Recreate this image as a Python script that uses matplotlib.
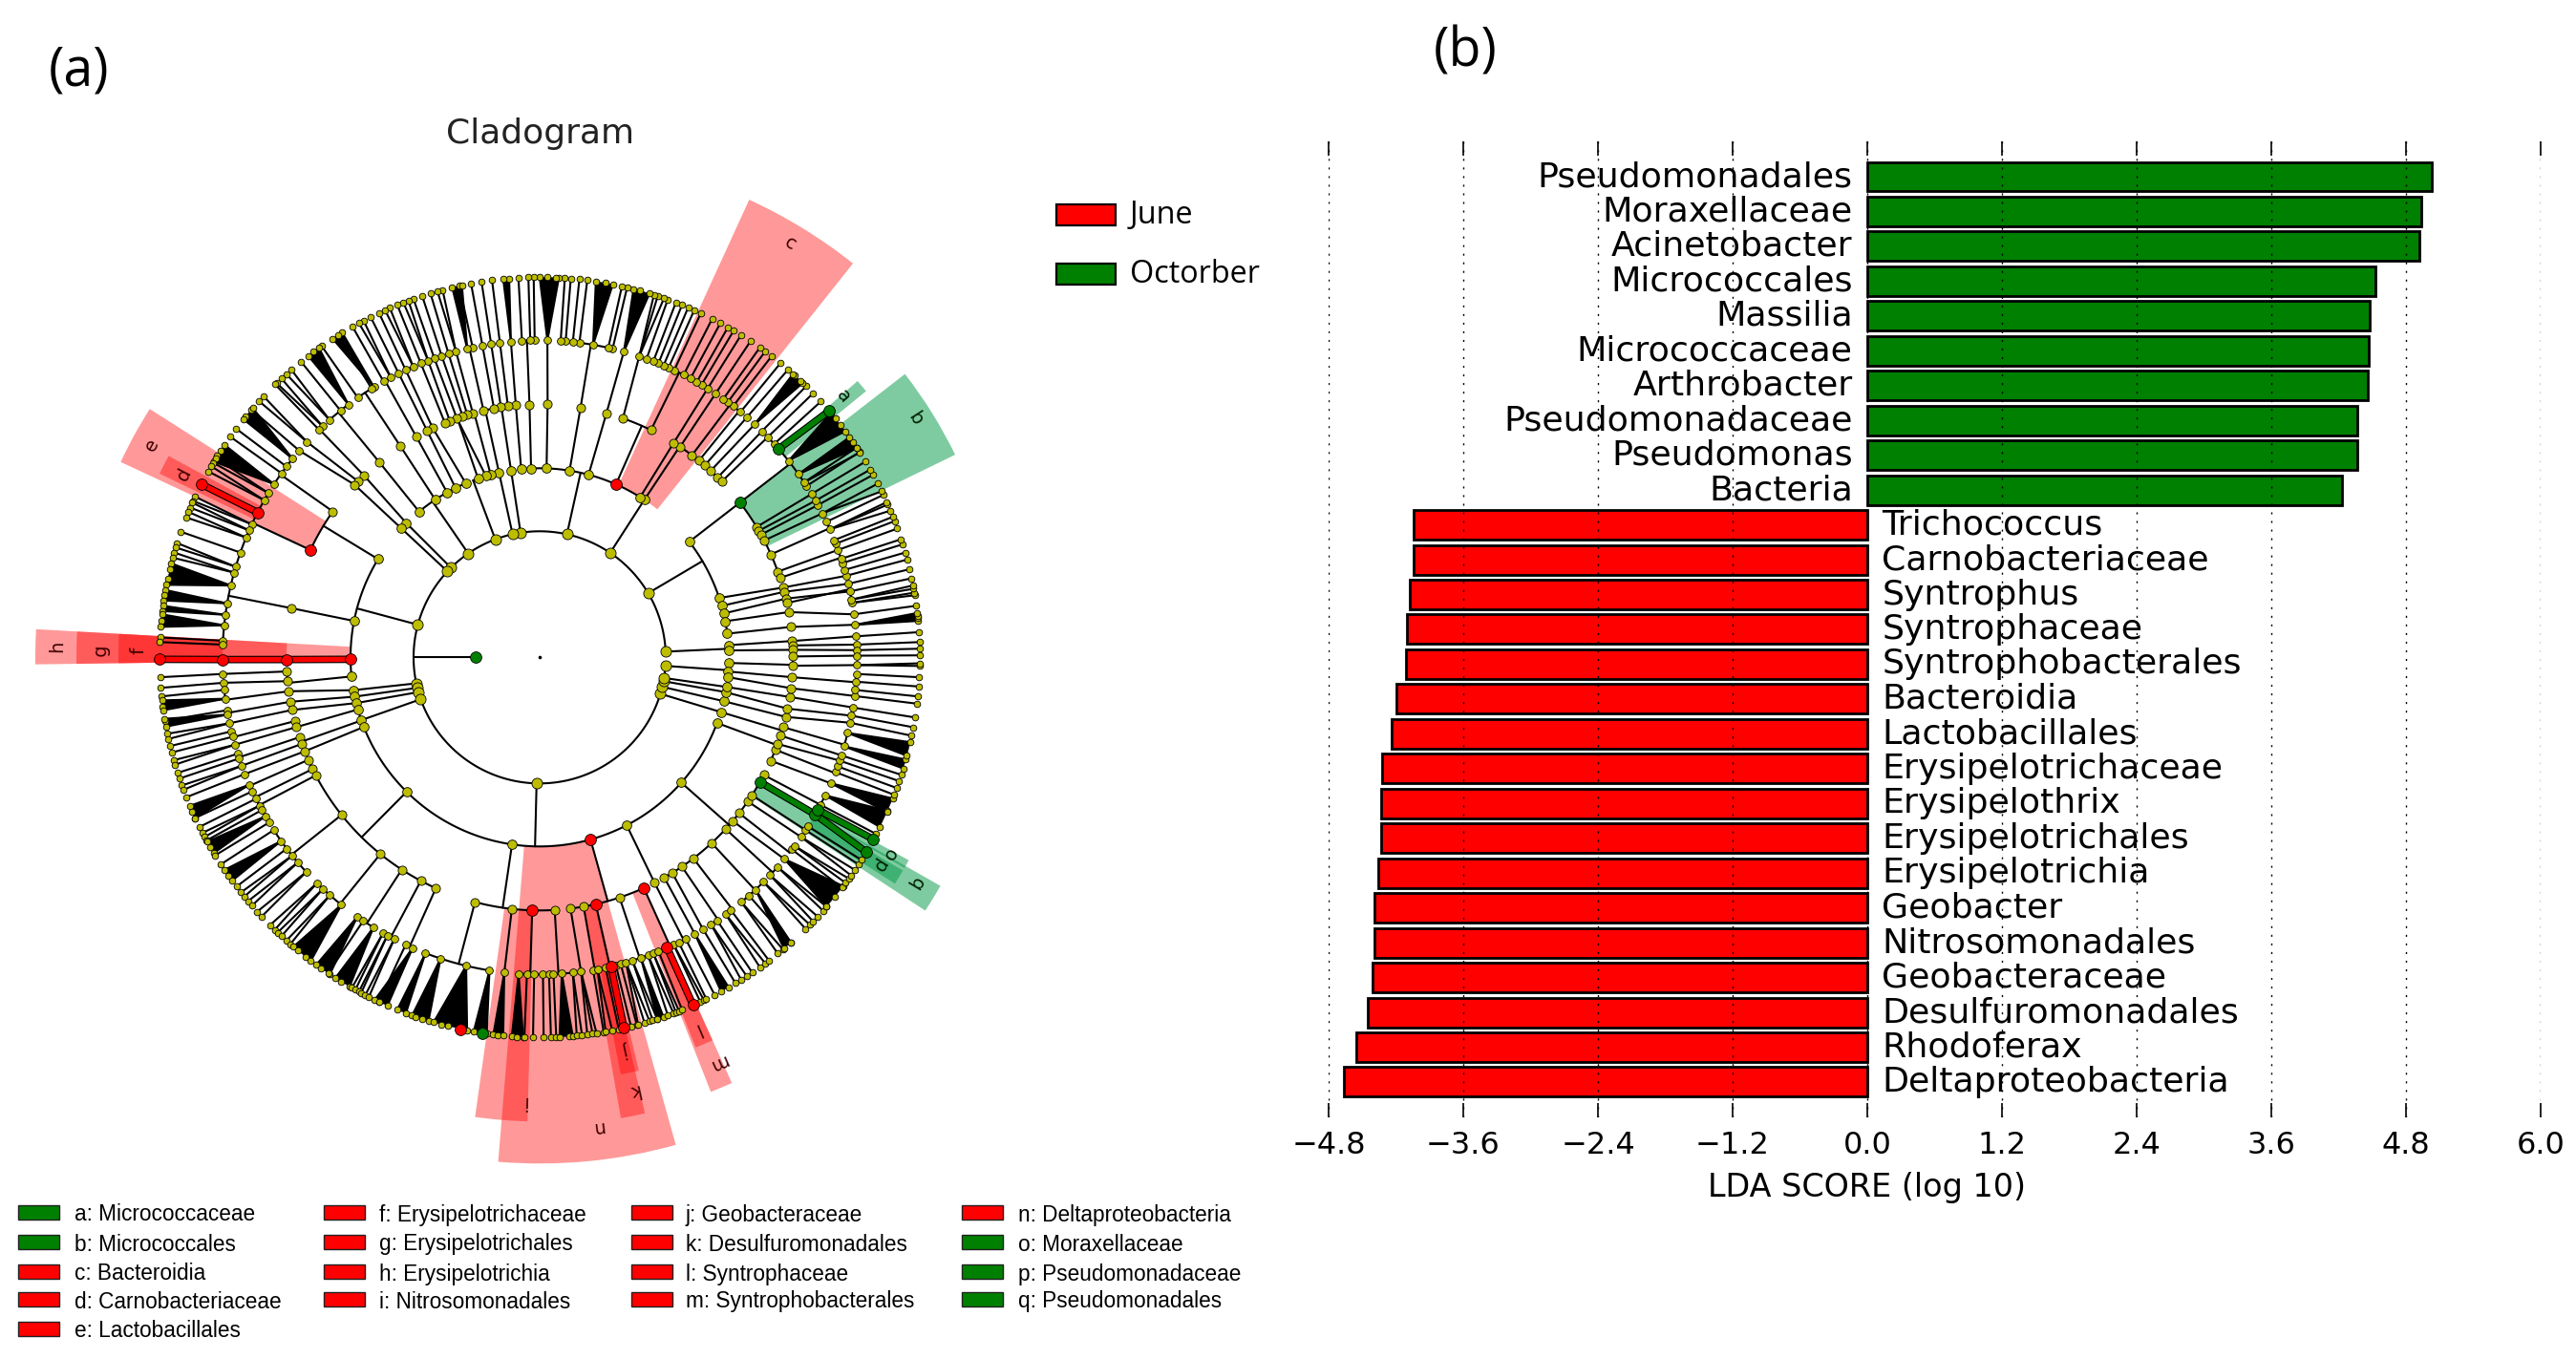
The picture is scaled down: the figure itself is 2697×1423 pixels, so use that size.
import numpy as np
import matplotlib
matplotlib.use("Agg")
import matplotlib.pyplot as plt
from matplotlib.collections import LineCollection
from matplotlib.patches import Wedge, Rectangle

# ---------- LDA bars ----------
bar_names = ["Pseudomonadales","Moraxellaceae","Acinetobacter","Micrococcales","Massilia","Micrococcaceae",
             "Arthrobacter","Pseudomonadaceae","Pseudomonas","Bacteria","Trichococcus","Carnobacteriaceae",
             "Syntrophus","Syntrophaceae","Syntrophobacterales","Bacteroidia","Lactobacillales",
             "Erysipelotrichaceae","Erysipelothrix","Erysipelotrichales","Erysipelotrichia","Geobacter",
             "Nitrosomonadales","Geobacteraceae","Desulfuromonadales","Rhodoferax","Deltaproteobacteria"]
bar_values = [5.03,4.94,4.92,4.53,4.48,4.47,4.46,4.37,4.37,4.23,
              -4.04,-4.04,-4.08,-4.10,-4.11,-4.20,-4.24,-4.32,-4.33,-4.33,-4.36,-4.39,-4.39,-4.41,-4.45,-4.55,-4.66]
xticks = [-4.8,-3.6,-2.4,-1.2,0.0,1.2,2.4,3.6,4.8,6.0]

# ---------- cladogram legend ----------
legend_cols = [[("a: Micrococcaceae","g"),("b: Micrococcales","g"),("c: Bacteroidia","r"),("d: Carnobacteriaceae","r"),("e: Lactobacillales","r")],
               [("f: Erysipelotrichaceae","r"),("g: Erysipelotrichales","r"),("h: Erysipelotrichia","r"),("i: Nitrosomonadales","r")],
               [("j: Geobacteraceae","r"),("k: Desulfuromonadales","r"),("l: Syntrophaceae","r"),("m: Syntrophobacterales","r")],
               [("n: Deltaproteobacteria","r"),("o: Moraxellaceae","g"),("p: Pseudomonadaceae","g"),("q: Pseudomonadales","g")]]

# ---------- cladogram tree: ring radii and angles (deg) ----------
RADII = [0, 67, 132, 198, 265, 332, 398]

LEVEL2 = [(180,[2.6,30.6,56,77.5,98.7,102.4,110.6,124.5,134.7,137,165,191.9,194,196,199.4,268.6,343.2,346.5,349.1,350.6,356.1])]
LEVEL3 = [(2.6,[3.7,2.1]),(30.6,[37.7,18.3,15.8,13.4,11,7.2]),(56,[56.4]),(77.5,[57.9,66.2,75,80.9,87.9,92.6,95.6]),
          (98.7,[98.7]),(102.4,[102.4,105]),(110.6,[106.5,109]),(124.5,[113,116.4,119.3,123.5,129.6]),(134.7,[134.8]),(137,[137]),
          (165,[148.7,168.9,180.6,185.8]),(191.9,[190]),(194,[192]),(196,[194]),(199.4,[196,199.5]),
          (268.6,[201.6,225.3,261.6,285.6,297.4,318.5,339.7]),(343.2,[343.2]),(346.5,[346.6]),(349.1,[349.4]),(350.6,[351]),
          (356.1,[358.3,355.7,354])]
LEVEL4 = [(3.7,[3.7,2.7]),(2.1,[1.7]),(37.7,[37.7,31,30,29,27.5,24,19.8,18.3]),(18.3,[16]),(15.8,[15]),(13.4,[13.4,12.4]),(11,[10.3]),(7.2,[6.9]),
          (56.4,[56.3,53,51,49.3,47.5,45.3,44]),(57.9,[58]),(66.2,[63.9,70.8]),(75,[74.7]),(80.9,[80.7]),(87.9,[88.2]),(92.6,[92.3]),
          (95.6,[95.4]),(98.7,[97.2,98.8]),(102.4,[100.4,102.8]),(105,[105.3,106.6,107.7]),(106.5,[109.1]),(109,[110.8,112]),(113,[115]),
          (116.4,[116.4]),(119.3,[119.2]),(123.5,[123.4]),(129.6,[129.4]),(134.8,[134]),(137,[135.9,137]),
          (148.7,[144.8,154.9]),(168.9,[168.8]),(180.6,[180.5]),(185.8,[183.2,185.4]),(190,[187.7]),(192,[190.1]),(194,[192]),(196,[194.6,196]),
          (199.5,[198.4,200]),(201.6,[201.8]),(225.3,[203.9,206.2,207.8,218.5,231,237,242,245.8]),(261.6,[255.2,263.7,268.3,273.4]),
          (285.6,[277,280,282.8,288.4,294.3]),(297.4,[297]),(318.5,[299.5,301.6,304.2,307.4,312.8,317.3,319.7,322,325.3,327,330.5,332.3]),
          (339.7,[335.9,338.6,340]),(343.2,[342,344]),(346.6,[346.4]),(349.4,[348.3]),(351,[351]),(354,[353]),(355.7,[355.5]),(358.3,[358.1,360.2])]
LEVEL5 = [(3.7,[3.8]),(2.7,[2.3]),(1.7,[1.3]),(360.2,[360.3]),(358.1,[358.6]),(6.9,[5.9]),(10.3,[7.8]),(12.4,[9.9,10.5]),(13.4,[12]),(15,[13.4]),(16,[14.9]),
          (18.3,[16,17.3]),(19.8,[18.1,19.8,21,21.7]),(24,[23.8,25.3]),(27.5,[27]),(29,[28.7]),(30,[29.6]),(31,[31]),(37.7,[32.7,33.5,35.3,38.3,41.1]),
          (44,[42.3,44]),(45.3,[45.5]),(47.5,[47.3]),(49.3,[49.2]),(51,[50.7,52.4]),(53,[53.6,54.6]),(56.3,[56.3]),(58,[58]),
          (63.9,[59.3,60.3,61.6,63,64.9,66,67,68,69,70.3]),(70.8,[71.7]),(74.7,[74.6]),(80.7,[76.7,77.5,80.3,82.8,84,85.3,86.2]),(88.2,[88.6]),
          (92.3,[90.9,91.7,93.2]),(95.4,[95.2]),(97.2,[97.2]),(98.8,[98.8]),(100.4,[100.4]),(102.8,[102.2,103.2]),(105.3,[105.3]),(106.6,[106.7]),(107.7,[108]),
          (109.1,[109.4]),(110.8,[110.6]),(112,[112]),(115,[113.5,115]),(116.4,[116.4]),(119.2,[118,119.5]),(123.4,[121.5,122,125]),(129.4,[127.1,128.9,131.5]),
          (134,[133.2,134.1]),(135.9,[137.2]),(137,[139.3]),(144.8,[141.2,143,144.5,146.9]),(154.9,[148.8,150.3,152.8,155.2]),
          (168.8,[156.4,157.8,160.7,163.4,164.5,166.9,170.2,172.3,174.2,177,177.7]),
          (180.5,[180.4]),(183.2,[183]),(185.4,[184.6]),(187.7,[185.9,187.5]),(190.1,[189.6,190.4]),(192,[192]),(194.6,[193.5,194.5]),(196,[196]),(198.4,[197.7,198.6]),
          (200,[200]),(201.8,[201.6]),(203.9,[203.7,205]),(206.2,[206.5,207.9]),(207.8,[208.8,210.1,211.4]),(218.5,[213,215.4,217.1,218.7,220.3,222.6]),
          (231,[225.4,226.9,228.6,231.3]),(237,[234.9,236.2,238.4]),(242,[240.4,241.3,242.7]),(245.8,[245,246.4]),(255.2,[248.9,251.8,256.6,260.9]),(263.7,[263.6]),
          (268.3,[266.2,267.7,269,270.6,271.7]),(273.4,[272.5,274,276]),(277,[277.5]),(280,[279.7,280.5]),(282.8,[282,283,283.9]),(288.4,[284.8,285.8,287,288.6,290,291]),
          (294.3,[292,293.7,295]),(297,[296,297.4]),(299.5,[299.3]),(301.6,[301]),(304.2,[302.7,304]),(307.4,[305.9,307.1]),(312.8,[309.5,311.3,312.9,314.9]),
          (317.3,[316.6,318.6]),(319.7,[320.5]),(322,[322.7,323.5]),(325.3,[325.5]),(327,[327,327.8]),(330.5,[330.3,331.3]),(332.3,[332.3,334.2]),(335.9,[336.6]),
          (338.6,[338.8,339.9]),(340,[341]),(342,[342]),(344,[343.7,346.2]),(346.4,[348.1]),(348.3,[349.4]),(351,[350.9]),(353,[353]),(355.5,[354.1,355.6,357])]
# r5 node -> leaves on the outer ring, as separate spokes
FANS = {358.6:[358.7,359.1],9.9:[9.4,9.8],10.5:[10.4,10.9],23.8:[22.7,23.7,24.1],27:[25.9,27.2],33.5:[32.6,33.5],71.7:[70.9,71.9,72.5],
        283:[282.8],293.7:[293.8],152.8:[152.9],41.1:[40.4],330.3:[329.2],331.3:[331.4],180.4:[180.3],
        285.8:[285,286,286.8],287:[287.3,288],290:[289.7,290.6],291:[291,291.5],295:[295,295.6],280.5:[280,281],276:[275.6,276.4],277.5:[277.2,278,278.6],
        302.7:[302,303],305.9:[305.4,306.4],309.5:[308.8,309.8],314.9:[314.4,315.3],316.6:[316,317],318.6:[318.2,319],323.5:[323.6,324.4],325.5:[325,326],
        163.4:[162.5,163.2],164.5:[164,164.8],157.8:[157.5,158.4],156.4:[156,156.8],155.2:[155,155.7],
        118:[117.6,118.4],113.5:[113.2,114],110.6:[110.2,111],105.3:[104.8,105.6],137.2:[136.6,137.6],133.2:[132.8,133.8],131.5:[130.8,131.8],
        150.3:[149.8,150.7],148.8:[148.4,149.2],192:[191.6,192.4],196:[195.7,196.4],200:[199.7,200.4],207.9:[207.5,208.2],
        218.7:[218.2,219],220.3:[219.9,220.8],222.6:[222,223],225.4:[224.8,225.8],226.9:[226.4,227.2],228.6:[228.2,229],
        240.4:[240.4,241],241.3:[241.6,242],242.7:[242.7,243.3]}
# r5 node -> leaves that close into a solid black fan
WEDGES = {5.9:[5.5,5.9,6.3,6.7],35.3:[33.4,34.5,35.4],38.3:[36.5,37.6,38.9,40],47.3:[46.2,46.7,47.8,48.2],74.6:[73.2,74.7,75.7],80.3:[78.9,80,81.5],88.6:[87.1,87.6,88.8,90],
          95.2:[94.6,95.5],103.2:[101.8,103.3],121.5:[121.3,123],127.1:[125.5,126.5,127.5],141.2:[139,140.6,141.2],146.9:[146,147,148,149],
          166.9:[165.7,166.6,168,169],170.2:[169.8,170.6,171.4],172.3:[172.2,173],174.2:[173.5,174.5,175.4],187.5:[186.5,187.5,188],190.4:[189.3,190.5],
          203.7:[203,204,205],210.1:[209,210,211],215.4:[214,215,216],231.3:[229.6,230.5,232,233],234.9:[234,234.9,236.5],238.4:[237.5,238.5,240],246.4:[244.3,245,246.4],
          248.9:[248,249.4],251.8:[250.4,251,252,253],256.6:[253.8,255,256,258,259],260.9:[260,261.3,262],263.6:[263,263.7,264.5],266.2:[265.8,266.6,267.5],
          274:[273,274.5,275],288.6:[288,289],312.9:[310,311.4],320.5:[319,321,323],336.6:[336,338.2],334.2:[333.5,336.2],346.2:[345,347.1],343.7:[343,344.4],299.3:[298.5,299.8]}
# coloured nodes: (ring level, angle)
RED_NODES = [(3,66.2),(3,180.6),(3,285.6),(4,154.9),(4,180.5),(4,268.3),(4,282.8),(4,294.3),(5,152.8),(5,180.4),(5,283),(5,293.7),
             (6,180.3),(6,152.9),(6,282.8),(6,293.8),(6,258)]
GREEN_NODES = [(1,180),(4,37.7),(4,330.5),(5,41.1),(5,330.3),(5,331.3),(6,40.4),(6,329.2),(6,331.4),(6,261.3)]
# bold branches: colour, chain of (level, angle)
BOLD = [("r",[(3,180.6),(4,180.5),(5,180.4),(6,180.3)]),("r",[(5,152.8),(6,152.9)]),("r",[(5,283),(6,282.8)]),("r",[(5,293.7),(6,293.8)]),
        ("g",[(5,41.1),(6,40.4)]),("g",[(4,330.5),(5,330.3),(6,329.2)]),("g",[(5,331.3),(6,331.4)])]
# shaded clades: label, colour, first angle, last angle, inner r, outer r, label angle, label r
CLADES = [("c","r",51.5,65.4,198,527,58.8,507),("b","g",26,37.8,265,484,32.5,466),("a","g",39.2,41,332,441,40.7,420),
          ("e","r",147.5,155,265,484,151.3,463),("d","r",151.5,154.2,332,442,152.8,418),
          ("h","r",176.8,180.8,198,528,178.7,505),("g","r",176.8,180.8,265,485,179,460),("f","r",176.8,180.8,332,441,179,420),
          ("i","r",262,268.5,265,486,268,465),("n","r",265.3,285.6,198,530,277,496),("k","r",280,283,265,490,282.3,464),("j","r",281,283.5,332,445,282.5,421),
          ("l","r",291.8,294.3,332,440,293,422),("m","r",291.5,294.3,265,489,293.7,464),
          ("q","g",326.7,330.3,265,483,329,459),("p","g",327.5,329.6,332,441,328.5,417),("o","g",330,331.2,332,441,330.6,420)]

OLIVE = "#BDBD00"
RED = "#FF0000"
GREEN = "#008000"
LW = 1.5
CX, CY = 565, 688.3
W, H = 2697, 1423

fig = plt.figure(figsize=(W/100, H/100), dpi=100, facecolor="white")
ax = fig.add_axes([0, 0, 1, 1])
ax.set_xlim(-CX, W-CX)
ax.set_ylim(CY-H, CY)
ax.axis("off")

def pol(level_r, a):
    t = np.deg2rad(a)
    return level_r*np.cos(t), level_r*np.sin(t)

for name, col, a1, a2, rin, rout, la, lr in CLADES:
    fc, alpha = (RED, 0.40) if col == "r" else ("#009944", 0.50)
    ax.add_patch(Wedge((0, 0), rout, a1, a2, width=rout-rin, fc=fc, ec="none", alpha=alpha, zorder=1))
    x, y = pol(lr, la)
    ax.text(x, y, name, rotation=la-90, rotation_mode="anchor", ha="center", va="center",
            fontsize=14, family="DejaVu Sans", color="#400000" if col == "r" else "#002000", zorder=6)

segs = []
nodes = {l: [] for l in range(1, 7)}
nodes[1].append(180)
for lev, groups in zip((2, 3, 4, 5), (LEVEL2, LEVEL3, LEVEL4, LEVEL5)):
    rp, rc = RADII[lev-1], RADII[lev]
    for parent, kids in groups:
        nodes[lev].extend(kids)
        if len(kids) == 1:
            segs.append([pol(rp, parent), pol(rc, kids[0])])
        else:
            lo, hi = min(kids+[parent]), max(kids+[parent])
            segs.append([pol(rp, parent), pol(rc, parent)])
            t = np.linspace(lo, hi, max(2, int((hi-lo)*2)))
            segs.append([pol(rc, v) for v in t])
r5, r6 = RADII[5], RADII[6]
for a5 in nodes[5]:
    if a5 in WEDGES:
        leaves = WEDGES[a5]
        xs, ys = zip(pol(r5, a5), pol(r6, min(leaves)), pol(r6, max(leaves)))
        ax.fill(xs, ys, color="black", lw=0.3, zorder=2)
    else:
        leaves = FANS.get(a5, [a5])
    for v in leaves:
        segs.append([pol(r5, a5), pol(r6, v)])
    nodes[6].extend(leaves)
ax.add_collection(LineCollection(segs, colors="black", linewidths=LW, zorder=2, capstyle="round"))

for col, chain in BOLD:
    pts = [pol(RADII[l], a) for l, a in chain]
    xs, ys = zip(*pts)
    ax.plot(xs, ys, color="black", lw=5.6, zorder=3, solid_capstyle="butt")
    ax.plot(xs, ys, color=RED if col == "r" else GREEN, lw=4.0, zorder=3.1, solid_capstyle="butt")

SIZES = {1: 9.5, 2: 8.0, 3: 7.0, 4: 6.6, 5: 5.6, 6: 4.8}
for lev in range(2, 7):
    pts = [pol(RADII[lev], a) for a in nodes[lev]]
    xs, ys = zip(*pts)
    ax.plot(xs, ys, ls="none", marker="o", ms=SIZES[lev], mfc=OLIVE, mec="black", mew=0.6, zorder=4)
for lst, col in ((RED_NODES, RED), (GREEN_NODES, GREEN)):
    for lev, a in lst:
        x, y = pol(RADII[lev], a)
        ax.plot([x], [y], ls="none", marker="o", ms=8.5, mfc=col, mec="black", mew=0.6, zorder=5)
ax.plot([0], [0], ls="none", marker="o", ms=1.6, color="black", zorder=5)

def px(x, y):
    return x-CX, CY-y

ax.text(*px(566, 140), "Cladogram", fontsize=26, ha="center", va="center", family="DejaVu Sans", color="#222222")
ax.text(*px(83, 75), "(a)", fontsize=40, ha="center", va="center", family="Open Sans")
ax.text(*px(1534, 55), "(b)", fontsize=40, ha="center", va="center", family="Open Sans")

for y0, col, lab in ((225, RED, "June"), (287, GREEN, "Octorber")):
    x, y = px(1106, y0+11)
    ax.add_patch(Rectangle((x, y), 62, 22, fc=col, ec="black", lw=1.6, zorder=5))
    ax.text(*px(1183, y0), lab, fontsize=23.3, ha="left", va="center", family="Open Sans")

col_patch_x = [19, 339, 661, 1007]
col_text_x = [78, 397, 718, 1066]
row_y = [1272, 1303, 1334, 1363, 1394]
for cp, ct, col in zip(col_patch_x, col_text_x, legend_cols):
    for ry, (lab, c) in zip(row_y, col):
        x, y = px(cp, ry+5)
        ax.add_patch(Rectangle((x, y), 43, 15, fc=RED if c == "r" else GREEN, ec="#222222", lw=1.0, zorder=5))
        ax.text(*px(ct, ry), lab, fontsize=16.3, ha="left", va="center", family="Liberation Sans")

# ---------- bars ----------
bx = fig.add_axes([1391/W, 1-1170/H, 1269/W, 1022/H], facecolor="none")
ypos = np.arange(len(bar_values))
bx.barh(ypos, bar_values, height=0.85, color=[GREEN if v > 0 else RED for v in bar_values],
        edgecolor="black", linewidth=2.0, zorder=2)
for yy, name, v in zip(ypos, bar_names, bar_values):
    bx.text(-0.13 if v > 0 else 0.13, yy, name, ha="right" if v > 0 else "left", va="center",
            fontsize=26.2, family="DejaVu Sans", zorder=4)
bx.set_xlim(-4.8, 6.0)
bx.set_ylim((1170-185)/36.46, (148-185)/36.46)
bx.set_xticks(xticks)
bx.set_xticklabels([f"{t:.1f}".replace("-", "\u2212") for t in xticks], fontsize=23, family="DejaVu Sans")
bx.set_yticks([])
bx.tick_params(axis="x", direction="in", length=11, width=1.2, top=True, bottom=True, pad=10)
for s in bx.spines.values():
    s.set_visible(False)
bx.xaxis.grid(True, color="black", lw=1.0, ls=(0, (1.5, 5)), zorder=3)
bx.set_axisbelow(False)
bx.text(0, (1243-185)/36.46, "LDA SCORE (log 10)", fontsize=24, family="DejaVu Sans", ha="center", va="center", clip_on=False)

fig.savefig("out.png", dpi=100, facecolor="white")
